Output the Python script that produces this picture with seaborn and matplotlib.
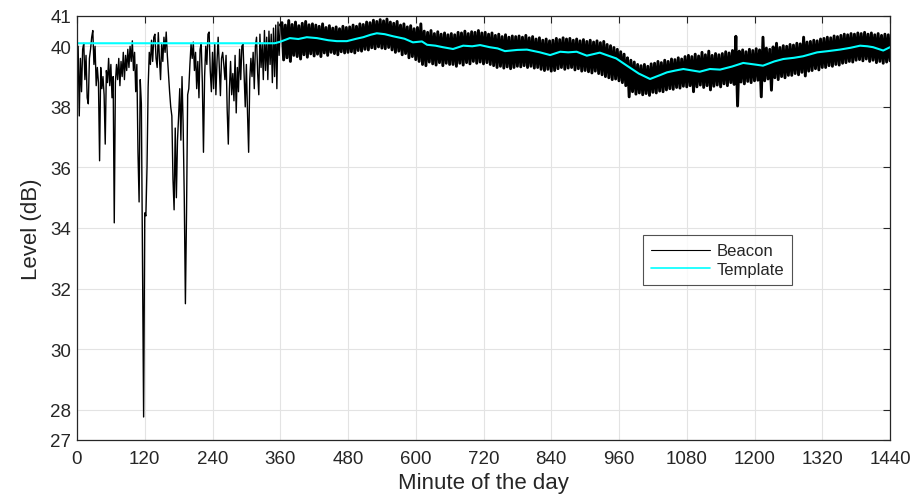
import numpy as np
import pandas as pd
import matplotlib
matplotlib.use("Agg")
import matplotlib.pyplot as plt
import seaborn as sns

# ---------------- data ----------------
# Beacon, minutes 0..360 every 2 minutes
beacon_early = [
    38.6, 40.0, 37.7, 39.6, 38.5, 39.9, 40.1, 38.9, 39.7, 38.3,
    38.1, 39.6, 39.9, 40.3, 40.52, 39.4, 40.0, 38.7, 39.3, 38.8,
    36.22, 39.3, 38.6, 39.0, 38.4, 36.77, 39.2, 38.8, 39.6, 38.7,
    39.4, 38.3, 39.0, 34.17, 38.8, 39.4, 38.9, 39.6, 38.7, 39.5,
    39.0, 39.8, 38.9, 39.7, 39.2, 39.9, 39.3, 40.0, 39.5, 40.18,
    39.2, 39.8, 38.5, 39.4, 36.5, 34.86, 38.9, 38.1, 33.0, 27.76,
    34.5, 34.4, 36.0, 38.65, 39.8, 39.4, 40.2, 39.5, 40.3, 40.4,
    39.6, 39.3, 40.45, 39.6, 38.9, 40.1, 39.5, 40.3, 39.8, 40.47,
    39.7, 39.09, 38.5, 38.0, 37.7, 35.6, 34.6, 37.3, 35.0, 36.9,
    37.7, 38.6, 36.9, 39.0, 37.4, 35.0, 31.5, 34.5, 38.4, 38.6,
    39.4, 40.08, 39.6, 40.14, 39.2, 39.8, 38.6, 39.5, 38.3, 39.9,
    40.1, 38.8, 36.5, 39.0, 40.0, 39.4, 40.4, 40.47, 39.2, 38.5,
    39.8, 38.6, 40.1, 38.4, 39.5, 40.3, 39.3, 38.37, 39.6, 39.8,
    39.4, 38.9, 39.7, 37.9, 36.77, 38.6, 39.5, 38.4, 39.1, 38.2,
    39.7, 37.8, 39.3, 38.5, 39.9, 38.9, 40.0, 40.08, 39.0, 38.0,
    39.4, 37.8, 36.5, 38.9, 39.6, 39.0, 39.8, 38.6, 40.0, 40.3,
    39.1, 38.4, 40.4, 39.3, 40.1, 38.9, 40.52, 39.2, 40.3, 38.9,
    40.5, 39.4, 40.4, 38.8, 40.6, 39.0, 40.7, 38.6, 40.8, 39.7,
    40.7,
]
minutes_early = np.arange(0, 361, 2)

# Beacon after minute 360: upper and lower extremes of the noisy band
# (upper at 363, 369, ... ; lower at 366, 372, ...)
beacon_hi = [
    40.78, 40.70, 40.85, 40.72, 40.80, 40.68, 40.76, 40.82, 40.71, 40.74,
    40.70, 40.66, 40.74, 40.62, 40.68, 40.60, 40.64, 40.58, 40.66, 40.62,
    40.64, 40.70, 40.66, 40.74, 40.72, 40.80, 40.78, 40.86, 40.82, 40.88,
    40.84, 40.90, 40.80, 40.76, 40.82, 40.70, 40.74, 40.64, 40.68, 40.58,
    40.62, 40.74, 40.50, 40.46, 40.52, 40.42, 40.48, 40.40, 40.44, 40.38,
    40.42, 40.38, 40.46, 40.44, 40.50, 40.42, 40.48, 40.46, 40.52, 40.44,
    40.46, 40.40, 40.44, 40.36, 40.40, 40.32, 40.38, 40.30, 40.34, 40.32,
    40.34, 40.30, 40.36, 40.28, 40.32, 40.24, 40.28, 40.20, 40.24, 40.18,
    40.20, 40.26, 40.22, 40.28, 40.24, 40.26, 40.20, 40.24, 40.18, 40.22,
    40.16, 40.20, 40.14, 40.18, 40.12, 40.16, 40.06, 40.02, 39.96, 39.90,
    39.82, 39.74, 39.62, 39.54, 39.48, 39.40, 39.36, 39.40, 39.34, 39.42,
    39.44, 39.50, 39.46, 39.54, 39.50, 39.58, 39.56, 39.62, 39.58, 39.66,
    39.70, 39.66, 39.74, 39.68, 39.80, 39.72, 39.84, 39.70, 39.76, 39.72,
    39.76, 39.82, 39.78, 39.86, 40.33, 39.84, 39.88, 39.82, 39.90, 39.86,
    39.92, 39.88, 40.30, 39.94, 39.90, 39.98, 40.10, 39.96, 40.02, 40.00,
    40.06, 40.04, 40.10, 40.08, 40.30, 40.14, 40.16, 40.20, 40.18, 40.24,
    40.26, 40.30, 40.28, 40.34, 40.32, 40.36, 40.40, 40.38, 40.42, 40.40,
    40.44, 40.42, 40.46, 40.40, 40.44, 40.38, 40.42, 40.36, 40.40, 40.38,
]
beacon_lo = [
    39.55, 39.62, 39.50, 39.70, 39.66, 39.58, 39.72, 39.64, 39.75, 39.68,
    39.74, 39.66, 39.78, 39.70, 39.80, 39.76, 39.72, 39.82, 39.78, 39.80,
    39.82, 39.78, 39.86, 39.84, 39.90, 39.88, 39.95, 39.92, 39.98, 39.94,
    39.92, 39.96, 39.88, 39.80, 39.84, 39.72, 39.76, 39.62, 39.66, 39.56,
    39.50, 39.40, 39.36, 39.48, 39.42, 39.38, 39.46, 39.36, 39.44, 39.40,
    39.40, 39.34, 39.44, 39.38, 39.46, 39.42, 39.50, 39.44, 39.48, 39.42,
    39.46, 39.40, 39.36, 39.30, 39.34, 39.28, 39.32, 39.26, 39.30, 39.34,
    39.32, 39.36, 39.30, 39.34, 39.28, 39.30, 39.24, 39.20, 39.24, 39.18,
    39.20, 39.26, 39.30, 39.24, 39.28, 39.30, 39.22, 39.26, 39.18, 39.20,
    39.16, 39.12, 39.18, 39.10, 39.06, 39.00, 38.96, 38.90, 38.92, 38.86,
    38.80, 38.70, 38.33, 38.50, 38.42, 38.46, 38.40, 38.44, 38.38, 38.48,
    38.46, 38.52, 38.50, 38.56, 38.60, 38.58, 38.64, 38.62, 38.68, 38.66,
    38.70, 38.50, 38.66, 38.72, 38.64, 38.70, 38.56, 38.68, 38.72, 38.66,
    38.76, 38.70, 38.80, 38.74, 38.03, 38.82, 38.76, 38.84, 38.80, 38.86,
    38.88, 38.33, 38.86, 38.92, 38.55, 38.96, 38.90, 39.00, 38.96, 39.04,
    39.04, 39.10, 39.06, 39.14, 39.02, 39.18, 39.20, 39.26, 39.22, 39.30,
    39.30, 39.36, 39.34, 39.40, 39.38, 39.44, 39.46, 39.50, 39.48, 39.54,
    39.56, 39.52, 39.58, 39.50, 39.54, 39.46, 39.50, 39.44, 39.48, 39.52,
]
minutes_hi = np.arange(363, 1440, 6)
minutes_lo = np.arange(366, 1441, 6)

# Template
template_minutes = [0, 350, 360, 377, 392, 407, 425, 445, 460, 478,
                    495, 507, 520, 531, 545, 560, 580, 595, 611, 620,
                    635, 648, 666, 684, 700, 714, 731, 745, 758, 780,
                    797, 820, 838, 856, 870, 885, 903, 926, 938, 955,
                    974, 995, 1015, 1033, 1045, 1060, 1074, 1090, 1103, 1121,
                    1139, 1160, 1180, 1200, 1215, 1235, 1251, 1270, 1286, 1311,
                    1330, 1351, 1370, 1387, 1400, 1410, 1428, 1440]
template_level = [40.1, 40.1, 40.15, 40.27, 40.24, 40.30, 40.27, 40.2, 40.17, 40.17,
                  40.25, 40.3, 40.38, 40.43, 40.4, 40.33, 40.25, 40.13, 40.16, 40.05,
                  40.02, 39.97, 39.91, 40.02, 40.0, 40.04, 39.97, 39.93, 39.84, 39.88,
                  39.89, 39.8, 39.71, 39.82, 39.80, 39.82, 39.69, 39.79, 39.71, 39.6,
                  39.36, 39.1, 38.92, 39.05, 39.14, 39.2, 39.25, 39.2, 39.16, 39.25,
                  39.23, 39.33, 39.45, 39.4, 39.36, 39.5, 39.58, 39.62, 39.67, 39.80,
                  39.84, 39.89, 39.95, 40.02, 40.0, 39.97, 39.86, 39.97]

x_ticks = list(range(0, 1441, 120))
y_ticks = [27, 28, 30, 32, 34, 36, 38, 40, 41]

# ---------------- tables ----------------
early = pd.DataFrame({"minute": minutes_early, "level": beacon_early})
band = pd.concat([
    early.tail(1),
    pd.DataFrame({"minute": minutes_hi, "level": beacon_hi}),
    pd.DataFrame({"minute": minutes_lo, "level": beacon_lo}),
]).sort_values("minute").reset_index(drop=True)
template = pd.DataFrame({"minute": template_minutes, "level": template_level})

# ---------------- plot ----------------
sns.set_theme(style="white")
plt.rcParams["font.family"] = ["Liberation Sans", "DejaVu Sans"]
TXT = "#262626"

fig = plt.figure(figsize=(9.14, 5.02), dpi=100)
ax = fig.add_axes([77 / 914, 1 - 441 / 502, (890 - 77) / 914, (441 - 17) / 502])

sns.lineplot(data=early, x="minute", y="level", ax=ax, color="black",
             linewidth=1.0, estimator=None, label="Beacon")
sns.lineplot(data=band, x="minute", y="level", ax=ax, color="black",
             linewidth=2.1, estimator=None, legend=False)
sns.lineplot(data=template, x="minute", y="level", ax=ax, color="#00ffff",
             linewidth=1.5, estimator=None, label="Template")

ax.set_xlim(0, 1440)
ax.set_ylim(27, 41)
ax.set_xticks(x_ticks)
ax.set_xticklabels([str(t) for t in x_ticks], fontsize=13.5)
ax.set_yticks(y_ticks)
ax.set_yticklabels([str(t) for t in y_ticks], fontsize=13.5)
ax.grid(True, color="#e3e3e3", linewidth=0.8)
ax.set_axisbelow(True)
ax.tick_params(direction="in", top=True, right=True, length=5, width=0.8,
               colors=TXT)
ax.tick_params(axis="x", pad=7.5)
ax.tick_params(axis="y", pad=4)
for s in ax.spines.values():
    s.set_color(TXT)
    s.set_linewidth(0.9)

ax.set_xlabel("Minute of the day", fontsize=16, color=TXT, labelpad=3.5)
ax.set_ylabel("Level (dB)", fontsize=16, color=TXT, labelpad=6)

leg = ax.legend(loc="upper left", bbox_to_anchor=((643 - 77) / 813, (441 - 236) / 424),
                fontsize=12, frameon=True, fancybox=False, edgecolor=TXT,
                handlelength=3.5, handletextpad=0.4, borderpad=0.5,
                labelspacing=0.2, borderaxespad=0)
leg.get_frame().set_linewidth(0.8)
for h in leg.get_lines():
    h.set_linewidth(1.2 if h.get_label() == "Template" else 0.8)

fig.savefig("out.png", dpi=100)
